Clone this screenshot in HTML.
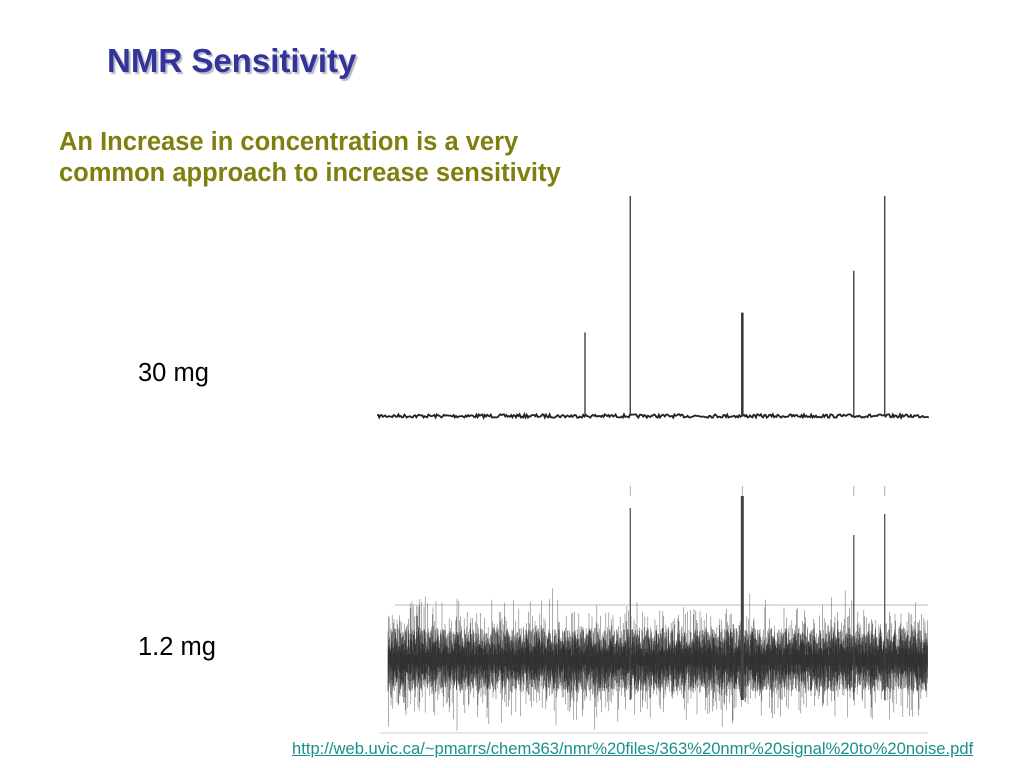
<!DOCTYPE html>
<html><head><meta charset="utf-8"><style>
body{margin:0;width:1024px;height:768px;background:#fff;position:relative;overflow:hidden;font-family:"Liberation Sans",sans-serif}
.t{position:absolute;white-space:nowrap}
</style></head><body>
<div class="t" style="left:107px;top:42px;font-size:33px;font-weight:bold;color:#333399;text-shadow:2px 2px 1px #b8b8c8">NMR Sensitivity</div>
<div class="t" style="left:59px;top:127px;font-size:25.5px;font-weight:bold;color:#7f7f0f;line-height:31px">An Increase in concentration is a very<br>common approach to increase sensitivity</div>
<div class="t" style="left:138px;top:359px;font-size:25.5px;color:#000">30 mg</div>
<div class="t" style="left:138px;top:633px;font-size:25.5px;color:#000">1.2 mg</div>
<a class="t" style="left:292px;top:739px;font-size:16.6px;color:#1a8f8f;text-decoration:underline">http://web.uvic.ca/~pmarrs/chem363/nmr%20files/363%20nmr%20signal%20to%20noise.pdf</a>
<svg id="chart" width="1024" height="768" style="position:absolute;left:0;top:0"></svg>
<script>
const peakPos = [0.375, 0.457, 0.660, 0.862, 0.918];
const topHeights = [0.38, 1.0, 0.47, 0.66, 1.0];
const bottomPeakPos = [0.457, 0.660, 0.862, 0.918];
const bottomHeights = [0.76, 0.82, 0.625, 0.73];
const NS="http://www.w3.org/2000/svg";
const svg=document.getElementById('chart');
function mk(t,a){const e=document.createElementNS(NS,t);for(const k in a)e.setAttribute(k,a[k]);svg.appendChild(e);return e;}
const x0=378,x1=930;
const xs=v=>x0+v*(x1-x0);
const yTop=v=>416-v*(416-196);
const yBot=v=>660-v*(660-460);
let seed=7;function rnd(){seed=(seed*16807)%2147483647;return seed/2147483647;}
function gauss(){return (rnd()+rnd()+rnd()+rnd()-2)*1.7;}
let d="M378 416";
for(let x=378;x<=930;x+=1.2)d+=" L"+x.toFixed(1)+" "+(416+(rnd()-0.5)*3.5).toFixed(1);
const bl=mk('path',{d:d,stroke:'#222',fill:'none','stroke-width':1.8});


peakPos.forEach((p,i)=>{
  const l=mk('line',{x1:xs(p),x2:xs(p),y1:416,y2:yTop(topHeights[i]),stroke:'#333','stroke-width':i==2?2.5:1.3});
  
  
});
mk('line',{x1:395,x2:928,y1:605,y2:605,stroke:'#bbb','stroke-width':1});
mk('line',{x1:380,x2:928,y1:733,y2:733,stroke:'#ccc','stroke-width':1});
// noise texture: light outer spikes + dense dark core
let n1="",n2="";
for(let x=388;x<=928;x+=0.6){
  const a=Math.abs(gauss())*22+10, b=Math.abs(gauss())*22+10;
  n1+="M"+x.toFixed(1)+" "+(660-a).toFixed(1)+"V"+(660+b).toFixed(1);
}
for(let x=388;x<=928;x+=0.35){
  const a=rnd()*28+4, b=rnd()*28+4;
  n2+="M"+x.toFixed(2)+" "+(660-a).toFixed(1)+"V"+(660+b).toFixed(1);
}
const nz=mk('path',{d:n1,stroke:'#777','stroke-width':0.6,fill:'none'});


const nz2=mk('path',{d:n2,stroke:'#1e1e1e','stroke-width':0.45,fill:'none',opacity:0.8});


bottomPeakPos.forEach((p,i)=>{
  const l=mk('line',{x1:xs(p),x2:xs(p),y1:700,y2:yBot(bottomHeights[i]),stroke:'#444','stroke-width':i==1?3:1.2});
  
  
  const m=mk('line',{x1:xs(p),x2:xs(p),y1:486,y2:496,stroke:'#999','stroke-width':0.8});
  
  
});
</script>
</body></html>
